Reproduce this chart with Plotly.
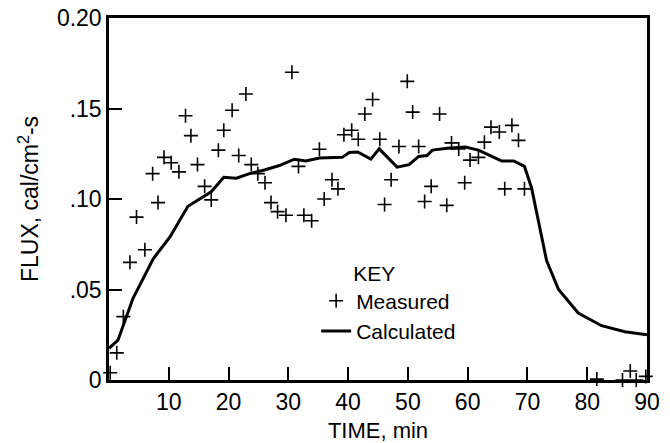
import plotly.graph_objects as go

# Calculated flux curve (time in min, flux in cal/cm^2-s)
calc_t = [0, 1.5, 4, 7.4, 10.2, 13.2, 17.1, 19.2, 21.3, 23.5, 26, 28.5, 31, 32.9,
          35.2, 39, 40.2, 41.6, 43.8, 45.2, 48.2, 50.2, 51.8, 53.2, 54.1, 56.6,
          59.6, 61.8, 63.5, 65.7, 67.7, 69.5, 70.7, 71.8, 73.2, 75.2, 78.5, 82.4,
          86.3, 90]
calc_f = [0.0175, 0.022, 0.045, 0.067, 0.079, 0.096, 0.104, 0.112, 0.1115, 0.114,
          0.116, 0.1185, 0.122, 0.121, 0.1226, 0.123, 0.1257, 0.126, 0.122, 0.1277,
          0.1176, 0.119, 0.1235, 0.124, 0.127, 0.128, 0.1287, 0.127, 0.1244, 0.121,
          0.121, 0.118, 0.106, 0.088, 0.066, 0.050, 0.037, 0.030, 0.0267, 0.025]

# Measured flux
meas_t = [0.2, 1.3, 2.4, 3.5, 4.6, 6.0, 7.3, 8.2, 9.2, 10.4, 11.7, 12.8, 13.7, 14.8,
          16.0, 17.1, 18.3, 19.2, 20.6, 21.7, 22.9, 23.8, 24.9, 26.1, 27.1, 28.2,
          29.6, 30.6, 31.7, 32.6, 33.9, 35.2, 36.0, 37.3, 38.3, 39.3, 40.6, 41.7,
          42.8, 44.1, 45.3, 46.1, 47.2, 48.5, 49.9, 50.8, 51.8, 52.8, 53.9, 55.3,
          56.5, 57.3, 58.5, 59.5, 60.4, 61.8, 62.8, 63.9, 65.3, 66.2, 67.4, 68.5,
          69.5, 81.6, 85.9, 87.2, 88.2, 89.8]
meas_f = [0.004, 0.015, 0.035, 0.065, 0.090, 0.072, 0.114, 0.098, 0.123, 0.120,
          0.115, 0.146, 0.135, 0.119, 0.107, 0.0995, 0.127, 0.138, 0.149, 0.124,
          0.158, 0.119, 0.114, 0.109, 0.098, 0.093, 0.091, 0.170, 0.118, 0.091,
          0.088, 0.1275, 0.100, 0.1106, 0.1056, 0.1355, 0.138, 0.133, 0.147, 0.155,
          0.133, 0.097, 0.1106, 0.129, 0.165, 0.148, 0.129, 0.0986, 0.107, 0.147,
          0.0965, 0.131, 0.1276, 0.109, 0.1215, 0.123, 0.1314, 0.1397, 0.137,
          0.1056, 0.1407, 0.1324, 0.1056, 0.0005, 0.0, 0.005, 0.0, 0.002]

x_ticks = [10, 20, 30, 40, 50, 60, 70, 80, 90]
x_ticktext = ["10", "20", "30", "40", "50", "60", "70", "80", "90"]
y_ticks = [0, 0.05, 0.10, 0.15, 0.20]
y_ticktext = ["0", ".05", ".10", ".15", "0.20"]

FONT = "Liberation Sans"

fig = go.Figure()
fig.add_trace(go.Scatter(
    x=meas_t, y=meas_f, mode="markers", name="Measured",
    marker=dict(symbol="cross-thin", size=10, line=dict(color="black", width=1.6)),
    cliponaxis=False,
))
fig.add_trace(go.Scatter(
    x=calc_t, y=calc_f, mode="lines", name="Calculated",
    line=dict(color="black", width=3),
    cliponaxis=False,
))

fig.update_layout(
    width=670, height=443,
    margin=dict(l=109, r=23, t=18, b=63, autoexpand=False),
    paper_bgcolor="white", plot_bgcolor="white",
    font=dict(family=FONT, color="black", size=23),
    showlegend=True,
    legend=dict(
        x=0.385, y=0.35, xanchor="left", yanchor="top",
        bgcolor="rgba(0,0,0,0)",
        font=dict(size=21, family=FONT),
        title=dict(text="\u00a0\u00a0\u00a0\u00a0\u00a0\u00a0KEY", font=dict(size=21, family=FONT)),
        tracegroupgap=0,
    ),
    xaxis=dict(
        range=[0, 90], showgrid=False, zeroline=False, automargin=False,
        showline=True, linewidth=2.5, linecolor="black",
        mirror=True, ticks="inside", ticklen=13, tickwidth=1.5, tickcolor="black",
        tickvals=x_ticks, ticktext=x_ticktext,
        tickfont=dict(size=23, family=FONT),
        title=dict(text="TIME, min", font=dict(size=22, family=FONT), standoff=20),
    ),
    yaxis=dict(
        range=[0, 0.20], showgrid=False, zeroline=False, automargin=False,
        showline=True, linewidth=2.5, linecolor="black",
        mirror=True, ticks="inside", ticklen=13, tickwidth=1.5, tickcolor="black",
        tickvals=y_ticks, ticktext=y_ticktext,
        tickfont=dict(size=23, family=FONT),
        title=dict(text="FLUX, cal/cm<sup>2</sup>-s", font=dict(size=23, family=FONT), standoff=12),
    ),
)

fig.write_html("out.html")
